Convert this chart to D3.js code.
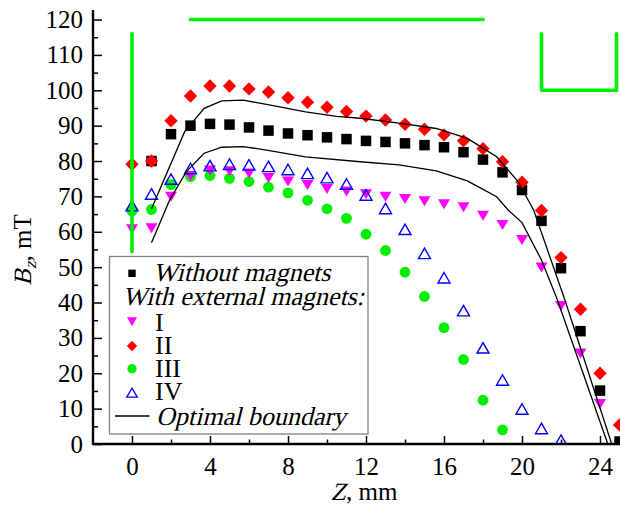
<!DOCTYPE html>
<html>
<head>
<meta charset="utf-8">
<script src="https://cdn.jsdelivr.net/npm/d3@7"></script>
<style>
  html, body { margin: 0; padding: 0; background: #fff; }
  svg { display: block; }
  text { font-family: "Liberation Serif", "Times New Roman", serif; fill: #000; }
</style>
</head>
<body>
<svg id="chart" width="620" height="506"></svg>
<script>
// ---------- Data ----------
const zWithout = [1,2,3,4,5,6,7,8,9,10,11,12,13,14,15,16,17,18,19,20,21,22,23,24,25];
const bWithout = [80.0,87.6,90.0,90.5,90.3,89.5,88.6,87.8,87.3,86.7,86.2,85.7,85.4,85.0,84.5,83.9,82.5,80.4,76.8,71.8,63.1,49.7,31.9,15.1,0.7];

const zI = [0,1,2,3,4,5,6,7,8,9,10,11,12,13,14,15,16,17,18,19,20,21,22,23,24];
const bI = [60.7,61.0,69.9,75.8,77.3,77.1,76.5,75.2,74.2,73.2,72.1,71.4,70.6,69.9,69.3,68.6,67.8,66.9,64.5,61.9,57.7,49.9,39.0,25.6,11.3];

const zII = [0,1,2,3,4,5,6,7,8,9,10,11,12,13,14,15,16,17,18,19,20,21,22,23,24,25];
const bII = [79.1,80.0,91.4,98.4,101.2,101.2,100.4,99.5,97.9,96.6,95.2,94.0,92.7,91.6,90.4,89.0,87.4,85.7,83.5,79.8,74.0,66.0,52.7,38.1,20.0,5.4];

const zIII = [0,1,2,3,4,5,6,7,8,9,10,11,12,13,14,15,16,17,18,19];
const bIII = [65.9,66.3,73.3,75.6,75.9,75.1,74.2,72.6,71.0,68.9,66.5,63.8,59.3,54.7,48.6,41.7,32.9,23.9,12.4,4.0];

const zIV = [0,1,2,3,4,5,6,7,8,9,10,11,12,13,14,15,16,17,18,19,20,21,22,23];
const bIV = [67.4,70.7,74.9,77.9,78.7,79.1,78.9,78.5,77.6,76.5,75.3,73.5,70.4,66.6,60.7,53.9,47.0,37.7,27.2,18.1,9.9,4.4,1.1,-1.5];

// Optimal boundary (two curves)
const zBoundUpper = [1,2.7,3.7,4.6,5.7,6.9,8.9,10.5,11.7,13.7,15.6,17.2,18.7,19.8,20.6,22.2,24.6];
const bBoundUpper = [66.5,88.3,94.9,97.0,97.2,96.0,93.9,92.6,92.1,90.7,89.2,86.4,81.2,74.2,66.1,40.7,0];
const zBoundLower = [1,1.93,2.79,3.7,4.6,5.7,6.9,8.9,11.7,13.7,15.6,17.2,18.7,19.3,20,21,21.8,24.4];
const bBoundLower = [56.9,69.0,77.0,82.2,83.9,84.1,83.1,81.2,79.8,78.9,77.2,74.4,69.9,66.1,62.6,52.0,41.0,0];

// Green schematic outlines (magnet system sketch)
const zGreenBar = [0,0];           const bGreenBar = [116,54.4];
const zGreenTop = [3,18];          const bGreenTop = [120,120];
const zGreenCup = [21,21,24.85,24.85]; const bGreenCup = [116,100,100,116];

const xTicks = [0,4,8,12,16,20,24];
const xMinor = [2,6,10,14,18,22];
const yTicks = [0,10,20,30,40,50,60,70,80,90,100,110,120];
const yMinor = [5,15,25,35,45,55,65,75,85,95,105,115];

const legendLabels = ["Without magnets","With external magnets:","I","II","III","IV","Optimal boundary"];

// ---------- Scales ----------
const svg = d3.select("#chart");
const x = d3.scaleLinear().domain([-2,25]).range([93,619.5]);
const y = d3.scaleLinear().domain([0,122.7]).range([444,10]);

const FS = 25;
const GREEN = "#00ee00";
const SKEW = -14;

svg.append("defs").append("clipPath").attr("id","clip")
  .append("rect").attr("x",x(-2)).attr("y",y(122.7)).attr("width",x(25)-x(-2)+2).attr("height",y(0)-y(122.7));

// ---------- helpers ----------
function sq(s){ const h=s/2; return `M${-h},${-h}H${h}V${h}H${-h}Z`; }
function diamond(r){ return `M0,${-r}L${r},0L0,${r}L${-r},0Z`; }
function triDown(w,h){ return `M${-w/2},${-h/2}L${w/2},${-h/2}L0,${h/2}Z`; }
function triUp(w,h){ return `M0,${-h/2}L${w/2},${h/2}L${-w/2},${h/2}Z`; }

function richText(g, pieces, size){
  let cx = 0;
  pieces.forEach(p=>{
    const fs = p.fs || size;
    const dy = p.dy || 0;
    const t = g.append("text")
      .attr("transform", `translate(${cx},${dy})` + (p.it ? ` skewX(${SKEW})` : ""))
      .style("font-size", fs+"px")
      .style("font-style","normal")
      .attr("fill", p.fill || "#000")
      .text(p.t);
    cx += t.node().getComputedTextLength();
  });
  return cx;
}

const plot = svg.append("g").attr("clip-path","url(#clip)");

function drawSeries(zs, bs, path, fill, stroke, sw){
  plot.append("g").selectAll("path").data(zs.map((z,i)=>[z,bs[i]])).join("path")
    .attr("transform", d=>`translate(${x(d[0])},${y(d[1])})`)
    .attr("d", path)
    .attr("fill", fill).attr("stroke", stroke||"none").attr("stroke-width", sw||0);
}
drawSeries(zWithout, bWithout, sq(10.5), "#000");
drawSeries(zII, bII, diamond(6.7), "#ff0000");
plot.append("g").selectAll("circle").data(zIII.map((z,i)=>[z,bIII[i]])).join("circle")
  .attr("cx", d=>x(d[0])).attr("cy", d=>y(d[1])).attr("r",5.4).attr("fill",GREEN);
drawSeries(zI, bI, triDown(12,10), "#ff00ff");
drawSeries(zIV, bIV, triUp(12,10.5), "none", "#0000ff", 1.4);

const line = d3.line().x(d=>x(d[0])).y(d=>y(d[1]));
plot.append("path").datum(zBoundUpper.map((z,i)=>[z,bBoundUpper[i]]))
  .attr("d", line).attr("fill","none").attr("stroke","#000").attr("stroke-width",1.3);
plot.append("path").datum(zBoundLower.map((z,i)=>[z,bBoundLower[i]]))
  .attr("d", line).attr("fill","none").attr("stroke","#000").attr("stroke-width",1.3);

[[zGreenBar,bGreenBar],[zGreenTop,bGreenTop],[zGreenCup,bGreenCup]].forEach(([zs,bs])=>{
  svg.append("path").datum(zs.map((z,i)=>[z,bs[i]]))
    .attr("d", line).attr("fill","none").attr("stroke",GREEN)
    .attr("stroke-width",3.6).attr("stroke-linecap","round").attr("stroke-linejoin","round");
});

// ---------- Axes ----------
const xAxis = svg.append("g").attr("transform",`translate(0,${y(0)})`)
  .call(d3.axisBottom(x).tickValues(xTicks).tickSize(-8).tickPadding(13).tickFormat(d3.format("d")));
const xAxisMinor = svg.append("g").attr("transform",`translate(0,${y(0)})`)
  .call(d3.axisBottom(x).tickValues(xMinor).tickSize(-4.5).tickFormat(""));
const yAxis = svg.append("g").attr("transform",`translate(${x(-2)},0)`)
  .call(d3.axisLeft(y).tickValues(yTicks).tickSize(-9).tickPadding(10).tickFormat(d3.format("d")));
const yAxisMinor = svg.append("g").attr("transform",`translate(${x(-2)},0)`)
  .call(d3.axisLeft(y).tickValues(yMinor).tickSize(-5).tickFormat(""));

[xAxis,xAxisMinor,yAxis,yAxisMinor].forEach(g=>{
  g.select(".domain").attr("stroke","#000").attr("stroke-width",2.4);
  g.selectAll(".tick line").attr("stroke","#000").attr("stroke-width",1.5);
  g.selectAll("text").style("font-family",'"Liberation Serif", serif').style("font-size",FS+"px").attr("fill","#000");
});
xAxis.select(".domain").attr("d",`M${x(-2)},0H${x(25)+2}`);
yAxis.select(".domain").attr("d",`M0,${y(0)+1}V${y(122.7)}`);
xAxisMinor.select(".domain").remove();
yAxisMinor.select(".domain").remove();

// axis titles
const xtG = svg.append("g");
const xtW = richText(xtG, [{t:"Z", it:true},{t:", mm"}], FS);
xtG.attr("transform", `translate(${364 - xtW/2},500)`);

const ytInner = svg.append("g");
const ytW = richText(ytInner, [{t:"B", it:true},{t:"z", it:true, fs:17, dy:5},{t:", mT"}], FS);
ytInner.attr("transform", `translate(31,250) rotate(-90) translate(${-ytW/2},0)`);

// ---------- Legend ----------
const lg = svg.append("g");
lg.append("rect").attr("x",109.5).attr("y",256.5).attr("width",258.5).attr("height",177.5)
  .attr("fill","#fff").attr("stroke","#808080").attr("stroke-width",1.3);
const mx = 132;
lg.append("path").attr("transform",`translate(${mx},273.3)`).attr("d",sq(7.4)).attr("fill","#000");
lg.append("path").attr("transform",`translate(${mx},321.7)`).attr("d",triDown(10,9)).attr("fill","#ff00ff");
lg.append("path").attr("transform",`translate(${mx},346)`).attr("d",diamond(5.2)).attr("fill","#ff0000");
lg.append("circle").attr("cx",mx).attr("cy",368.7).attr("r",4.6).attr("fill",GREEN);
lg.append("path").attr("transform",`translate(${mx},392.7)`).attr("d",triUp(10.5,9)).attr("fill","none").attr("stroke","#0000ff").attr("stroke-width",1.3);
lg.append("line").attr("x1",115).attr("x2",149.5).attr("y1",416).attr("y2",416).attr("stroke","#000").attr("stroke-width",1.3);

const lt = [
  {x:153, y:281, t:legendLabels[0], it:true},
  {x:122.5, y:305, t:legendLabels[1], it:true},
  {x:155, y:330.5, t:legendLabels[2], it:false},
  {x:155, y:353.8, t:legendLabels[3], it:false},
  {x:155, y:377, t:legendLabels[4], it:false},
  {x:155, y:400, t:legendLabels[5], it:false},
  {x:156, y:424.5, t:legendLabels[6], it:true}
];
lt.forEach(d=>{
  const g = lg.append("g").attr("transform",`translate(${d.x},${d.y})`);
  richText(g, [{t:d.t, it:d.it, fill: d.it ? "#000" : "#222"}], 26);
});
</script>
</body>
</html>
